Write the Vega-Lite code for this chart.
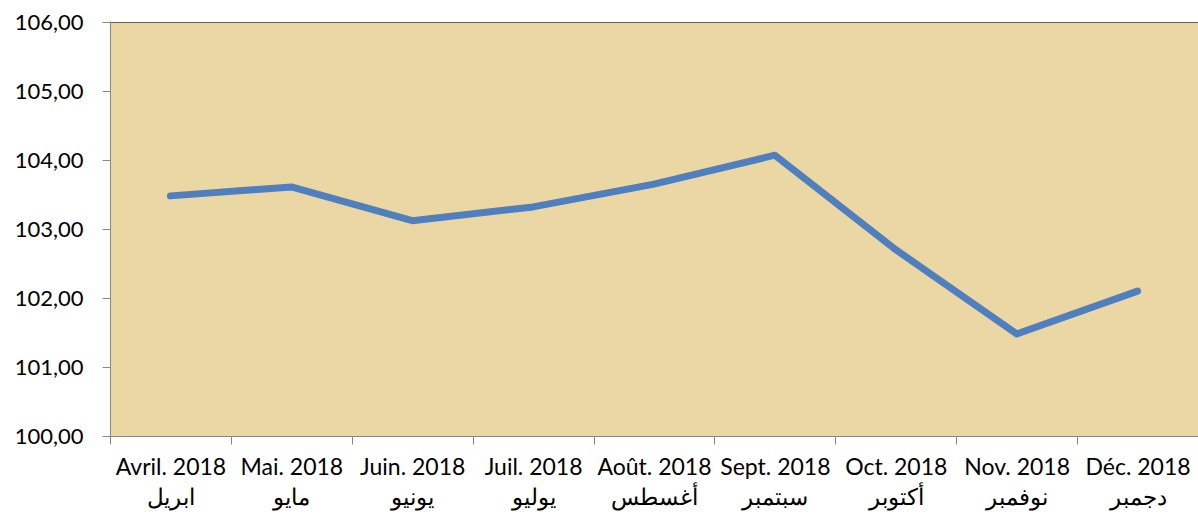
{
  "$schema": "https://vega.github.io/schema/vega-lite/v6.json",
  "width": 1088,
  "height": 414,
  "autosize": {"type": "none"},
  "padding": {"left": 110, "top": 22, "right": 0, "bottom": 79},
  "background": "white",
  "config": {
    "view": {"fill": "#EBD7A4", "stroke": "#6b6250", "strokeWidth": 1},
    "font": "Lato"
  },
  "data": {
    "values": [
      {"month": "Avril. 2018|ابريل", "value": 103.48},
      {"month": "Mai. 2018|مايو", "value": 103.61},
      {"month": "Juin. 2018|يونيو", "value": 103.12},
      {"month": "Juil. 2018|يوليو", "value": 103.32},
      {"month": "Août. 2018|أغسطس", "value": 103.65},
      {"month": "Sept. 2018|سبتمبر", "value": 104.07},
      {"month": "Oct. 2018|أكتوبر", "value": 102.70},
      {"month": "Nov. 2018|نوفمبر", "value": 101.48},
      {"month": "Déc. 2018|دجمبر", "value": 102.10}
    ]
  },
  "mark": {"type": "line", "color": "#4F7FBF", "strokeWidth": 7, "strokeJoin": "round", "strokeCap": "round"},
  "encoding": {
    "x": {
      "field": "month", "type": "nominal", "sort": null,
      "scale": {"paddingInner": 0, "paddingOuter": 0},
      "axis": {
        "title": null, "labelAngle": 0, "labelExpr": "split(datum.label, '|')",
        "labelFontSize": 23, "labelColor": "#000", "labelFont": "Lato",
        "labelLineHeight": 30, "labelPadding": 12,
        "domainColor": "#888", "tickColor": "#888", "tickSize": 8,
        "tickBand": "extent", "labelBound": false, "labelOverlap": false
      }
    },
    "y": {
      "field": "value", "type": "quantitative",
      "scale": {"domain": [100, 106], "nice": false, "zero": false},
      "axis": {
        "title": null, "values": [100, 101, 102, 103, 104, 105, 106],
        "labelExpr": "replace(format(datum.value, '.2f'), '.', ',')",
        "labelFontSize": 22, "labelColor": "#000", "labelFont": "Lato",
        "labelPadding": 19, "grid": false,
        "domainColor": "#888", "tickColor": "#888", "tickSize": 8
      }
    }
  }
}
